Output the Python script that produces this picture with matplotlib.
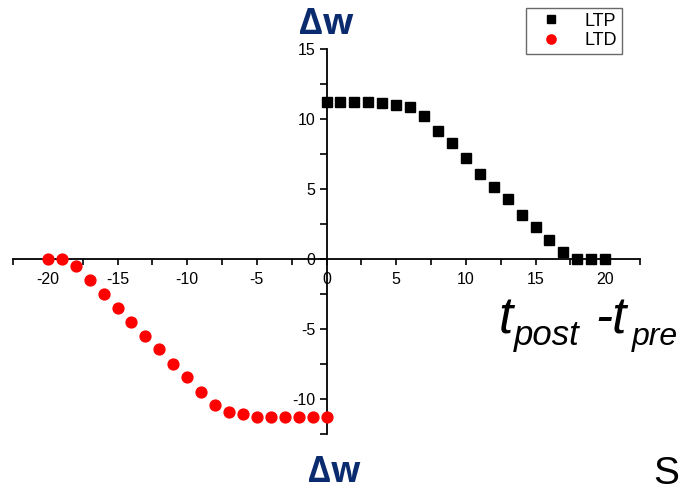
import matplotlib
matplotlib.use("Agg")
import matplotlib.pyplot as plt
import numpy as np

plt.rcParams['font.family'] = ['Liberation Sans', 'DejaVu Sans']

ltp_x = list(range(0, 21))
ltp_y = [11.24, 11.24, 11.24, 11.24, 11.12, 10.98, 10.83, 10.24, 9.14, 8.26, 7.24,
         6.05, 5.14, 4.29, 3.12, 2.26, 1.33, 0.5, 0.0, 0.0, 0.0]
ltd_x = list(range(-20, 1))
ltd_y = [0.0, 0.0, -0.52, -1.48, -2.5, -3.5, -4.52, -5.5, -6.45, -7.5, -8.43,
         -9.5, -10.43, -10.95, -11.05, -11.31, -11.31, -11.31, -11.31, -11.31, -11.31]
x_ticks = [-20, -15, -10, -5, 0, 5, 10, 15, 20]
y_ticks = [-10, -5, 0, 5, 10, 15]

W, H = 680, 491
fig = plt.figure(figsize=(W/100, H/100), dpi=100)
ax = fig.add_axes([13/W, (H-434)/H, 627/W, 385/H])
ax.set_xlim(-22.5, 22.5)
ax.set_ylim(-12.5, 15)

ax.plot(ltp_x, ltp_y, 's', color='black', markersize=6.8, label='LTP', zorder=3, clip_on=False)
ax.plot(ltd_x, ltd_y, 'o', color='#ff0000', markersize=7.8, label='LTD', zorder=3, clip_on=False)

for s in ['top', 'right']:
    ax.spines[s].set_visible(False)
ax.spines['left'].set_position(('data', 0))
ax.spines['bottom'].set_position(('data', 0))
ax.spines['left'].set_linewidth(1.3)
ax.spines['bottom'].set_linewidth(1.3)

ax.set_xticks(x_ticks)
ax.set_xticklabels([str(v) for v in x_ticks])
ax.set_xticks(np.arange(-22.5, 22.6, 2.5), minor=True)
ax.set_yticks(y_ticks)
ax.set_yticklabels([str(v) for v in y_ticks])
ax.set_yticks(np.arange(-12.5, 15.1, 2.5), minor=True)
ax.tick_params(axis='x', which='both', direction='out', length=4, width=1.2, labelsize=11.5, pad=5)
ax.tick_params(axis='y', which='both', direction='out', length=5, width=1.2, labelsize=11.5, pad=3)

leg = fig.legend(loc='upper right', bbox_to_anchor=(622/W, 1 - 8/H), frameon=True,
                 fancybox=False, edgecolor='#444444', fontsize=13, borderpad=0.25,
                 handletextpad=0.8, handlelength=2.2, labelspacing=0.15, markerscale=0.85,
                 borderaxespad=0)
leg.get_frame().set_linewidth(1.0)

navy = '#0b2b6f'
fig.text(326/W, 1 - 25/H, 'Δw', color=navy, fontsize=26, fontweight='bold',
         family=['Open Sans', 'DejaVu Sans'], ha='center', va='center')
fig.text(334/W, 1 - 473/H, 'Δw', color=navy, fontsize=25, fontweight='bold',
         family=['Open Sans', 'DejaVu Sans'], ha='center', va='center')
fig.text(666/W, 1 - 474/H, 'S', color='black', fontsize=28, ha='center', va='center')

# axis label t_post - t_pre built from pieces
main_fs = 37
base_main = 1 - 334/H
base_sub = 1 - 345/H
fig.text(499/W, base_main, 't', fontsize=main_fs, style='italic', ha='left', va='baseline')
fig.text(514/W, base_sub, 'post', fontsize=25, style='italic', ha='left', va='baseline')
fig.text(595/W, base_main, '-t', fontsize=main_fs, style='italic', ha='left', va='baseline')
fig.text(632/W, base_sub, 'pre', fontsize=23, style='italic', ha='left', va='baseline')

fig.savefig('out.png', dpi=100)
